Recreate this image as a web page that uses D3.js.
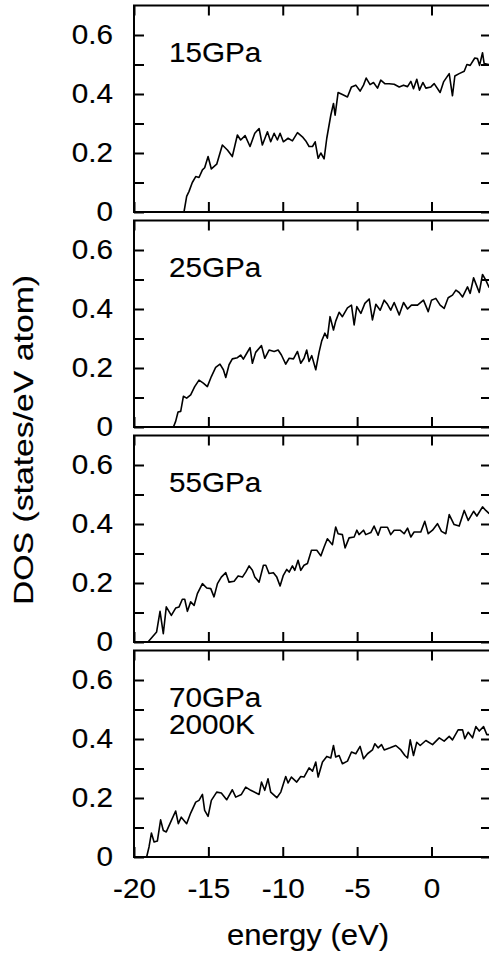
<!DOCTYPE html>
<html>
<head>
<meta charset="utf-8">
<script src="https://cdn.jsdelivr.net/npm/d3@7"></script>
<style>
  body { margin: 0; background: #fff; }
  svg { display: block; font-family: "Liberation Sans", Arial, Helvetica, sans-serif; }
  svg text { fill: #000; stroke: #000; stroke-width: 0.15; }
  .tick line { stroke: #000; stroke-width: 2; }
</style>
</head>
<body>
<div id="chart"></div>
<script>
// Energy grid (eV) and DOS (states/eV atom)
let energy15 = [-16.64,-16.46,-16.30,-16.08,-15.85,-15.63,-15.40,-15.25,-15.02,-14.80,-14.44,-14.06,-13.72,-13.39,-13.05,-12.83,-12.53,-12.20,-11.88,-11.59,-11.37,-11.03,-10.81,-10.58,-10.36,-10.18,-9.96,-9.64,-9.35,-9.01,-8.68,-8.45,-8.23,-8.00,-7.82,-7.62,-7.44,-7.22,-7.04,-6.77,-6.59,-6.48,-6.28,-5.99,-5.65,-5.38,-5.09,-4.80,-4.57,-4.39,-4.13,-3.90,-3.63,-3.41,-3.14,-2.85,-2.51,-2.17,-1.88,-1.61,-1.39,-1.21,-0.99,-0.81,-0.58,-0.38,-0.04,0.18,0.58,0.81,1.19,1.41,1.57,1.86,2.20,2.38,2.60,2.91,3.09,3.23,3.43,3.54,3.88]
let dos15 = [0,0.053,0.07,0.10,0.12,0.117,0.143,0.15,0.188,0.146,0.162,0.227,0.21,0.188,0.261,0.244,0.259,0.222,0.267,0.283,0.227,0.272,0.238,0.267,0.244,0.267,0.238,0.25,0.241,0.269,0.255,0.241,0.222,0.222,0.238,0.182,0.20,0.18,0.25,0.328,0.368,0.328,0.405,0.398,0.39,0.424,0.43,0.41,0.43,0.454,0.432,0.439,0.42,0.447,0.435,0.435,0.433,0.424,0.43,0.425,0.443,0.418,0.45,0.413,0.439,0.42,0.424,0.435,0.405,0.441,0.469,0.394,0.461,0.469,0.477,0.50,0.497,0.522,0.52,0.497,0.54,0.503,0.50]

let energy25 = [-17.35,-17.20,-17.04,-16.86,-16.68,-16.46,-16.19,-15.92,-15.63,-15.34,-15.07,-14.80,-14.51,-14.22,-13.99,-13.83,-13.61,-13.39,-13.05,-12.83,-12.65,-12.42,-12.20,-12.04,-11.82,-11.43,-11.21,-10.92,-10.58,-10.31,-10.09,-9.80,-9.57,-9.28,-9.01,-8.79,-8.57,-8.39,-8.23,-8.05,-7.78,-7.56,-7.38,-7.17,-7.00,-6.82,-6.59,-6.44,-6.21,-5.99,-5.65,-5.38,-5.20,-5.02,-4.75,-4.48,-4.19,-3.97,-3.74,-3.45,-3.18,-2.96,-2.74,-2.51,-2.17,-1.88,-1.61,-1.35,-0.94,-0.54,-0.22,0.00,0.29,0.58,0.85,1.12,1.41,1.64,1.86,2.09,2.42,2.60,2.83,2.98,3.21,3.43,3.65,3.88]
let dos25 = [0,0.019,0.051,0.053,0.104,0.098,0.109,0.137,0.159,0.149,0.137,0.171,0.202,0.213,0.194,0.168,0.211,0.231,0.235,0.244,0.23,0.25,0.269,0.216,0.253,0.276,0.233,0.261,0.256,0.261,0.244,0.213,0.233,0.231,0.256,0.216,0.233,0.261,0.222,0.242,0.194,0.253,0.292,0.318,0.301,0.374,0.329,0.359,0.389,0.374,0.404,0.413,0.346,0.408,0.385,0.419,0.434,0.363,0.416,0.396,0.43,0.416,0.396,0.422,0.38,0.422,0.40,0.413,0.413,0.43,0.391,0.43,0.436,0.413,0.402,0.438,0.447,0.464,0.456,0.441,0.475,0.453,0.506,0.486,0.456,0.517,0.498,0.472]

let energy55 = [-19.06,-18.77,-18.48,-18.25,-18.03,-17.83,-17.49,-17.20,-16.97,-16.75,-16.59,-16.41,-16.19,-15.96,-15.74,-15.40,-15.11,-14.84,-14.62,-14.39,-14.13,-13.83,-13.61,-13.27,-13.00,-12.71,-12.49,-12.26,-12.04,-11.88,-11.59,-11.30,-11.14,-10.92,-10.63,-10.40,-10.18,-9.96,-9.73,-9.57,-9.35,-9.19,-8.97,-8.79,-8.57,-8.34,-8.07,-7.71,-7.44,-7.22,-7.00,-6.66,-6.44,-6.28,-5.99,-5.81,-5.54,-5.20,-5.02,-4.87,-4.57,-4.42,-4.08,-3.86,-3.59,-3.41,-2.96,-2.74,-2.51,-2.11,-1.84,-1.61,-1.39,-1.17,-0.72,-0.45,-0.22,0.07,0.40,0.67,0.96,1.19,1.52,1.86,2.20,2.47,2.83,3.05,3.43,3.65,3.88]
let dos55 = [0,0.017,0.034,0.104,0.028,0.119,0.09,0.115,0.119,0.145,0.145,0.104,0.136,0.124,0.164,0.198,0.183,0.181,0.153,0.198,0.22,0.235,0.203,0.206,0.224,0.22,0.237,0.258,0.243,0.22,0.203,0.26,0.26,0.232,0.235,0.22,0.19,0.226,0.246,0.237,0.258,0.243,0.277,0.243,0.26,0.266,0.311,0.311,0.292,0.322,0.35,0.33,0.39,0.367,0.364,0.319,0.353,0.356,0.379,0.364,0.379,0.364,0.371,0.393,0.362,0.389,0.389,0.364,0.379,0.379,0.367,0.386,0.356,0.373,0.373,0.409,0.367,0.379,0.401,0.375,0.367,0.432,0.398,0.393,0.446,0.412,0.443,0.427,0.458,0.446,0.435]

let energy70 = [-19.15,-18.99,-18.83,-18.65,-18.43,-18.21,-18.03,-17.83,-17.53,-17.20,-17.02,-16.82,-16.46,-16.19,-15.85,-15.63,-15.40,-15.25,-15.02,-14.80,-14.44,-14.13,-13.77,-13.39,-13.16,-12.78,-12.49,-12.15,-11.59,-11.43,-11.21,-10.99,-10.81,-10.40,-10.13,-9.80,-9.64,-9.42,-9.06,-8.79,-8.57,-8.23,-8.00,-7.78,-7.62,-7.33,-7.04,-6.77,-6.59,-6.44,-6.21,-5.99,-5.65,-5.38,-5.09,-4.80,-4.57,-4.30,-3.97,-3.81,-3.59,-3.36,-3.18,-2.78,-2.40,-2.06,-1.79,-1.61,-1.43,-1.21,-0.99,-0.76,-0.38,0.07,0.52,0.85,1.19,1.41,1.79,2.09,2.24,2.47,2.76,2.98,3.21,3.50,3.72,3.88]
let dos70 = [0,0.034,0.081,0.051,0.054,0.126,0.09,0.085,0.119,0.156,0.113,0.135,0.113,0.149,0.186,0.192,0.212,0.158,0.138,0.192,0.22,0.217,0.194,0.228,0.203,0.212,0.237,0.226,0.212,0.254,0.226,0.265,0.22,0.201,0.22,0.273,0.251,0.271,0.254,0.273,0.271,0.302,0.291,0.322,0.271,0.322,0.341,0.336,0.378,0.339,0.344,0.316,0.325,0.356,0.35,0.375,0.333,0.35,0.363,0.384,0.37,0.381,0.363,0.37,0.378,0.363,0.344,0.336,0.397,0.344,0.389,0.378,0.395,0.381,0.404,0.393,0.409,0.397,0.431,0.431,0.401,0.423,0.404,0.442,0.427,0.442,0.415,0.415]

// Panel labels and ticks
let panelLabels = [["15GPa"], ["25GPa"], ["55GPa"], ["70GPa", "2000K"]]
let yTicks = [0, 0.1, 0.2, 0.3, 0.4, 0.5, 0.6]
let yTickLabels = ["0", "", "0.2", "", "0.4", "", "0.6"]
let xTicks = [-20, -15, -10, -5, 0]
let xTickLabels = ["-20", "-15", "-10", "-5", "0"]
let xTitle = "energy (eV)"
let yTitle = "DOS (states/eV atom)"

let series = [
    energy15.map((e, i) => [e, dos15[i]]),
    energy25.map((e, i) => [e, dos25[i]]),
    energy55.map((e, i) => [e, dos55[i]]),
    energy70.map((e, i) => [e, dos70[i]])
]

// Layout
let width = 489
let height = 954
let left = 134
let right = 491
let panelTops = [5.5, 220.5, 435.5, 650.5]
let panelHeight = 206.5
let stretch = 1.1

const svg = d3.select("#chart")
            .append("svg")
            .attr("width", width)
            .attr("height", height)

// Shared x scale
const xScale = d3.scaleLinear()
    .domain([-20, 4])
    .range([left, right])

series.forEach((data, p) => {
    let top = panelTops[p]
    let bottom = top + panelHeight
    let last = p == series.length - 1

    const yScale = d3.scaleLinear()
        .domain([0, 0.7])
        .range([bottom, top])

    const g = svg.append("g").attr("class", "panel")

    // Curve
    const line = d3.line()
        .x(d => xScale(d[0]))
        .y(d => yScale(d[1]))

    g.append("path")
     .datum(data)
     .attr("fill", "none")
     .attr("stroke", "#000")
     .attr("stroke-width", 1.6)
     .attr("stroke-linejoin", "round")
     .attr("d", line)

    // Left axis with labels
    const yAxis = d3.axisLeft(yScale)
        .tickValues(yTicks)
        .tickSizeInner(-10).tickSizeOuter(0)
        .tickPadding(19)
        .tickFormat((d, i) => yTickLabels[i])
    g.append("g")
     .attr("transform", "translate(" + left + ",0)")
     .call(yAxis)
     .call(a => a.select(".domain").remove())
     .selectAll("text")
     .attr("font-size", 27)
     .attr("transform", "scale(" + stretch + ",1)")

    // Right axis, ticks only
    g.append("g")
     .attr("transform", "translate(" + right + ",0)")
     .call(d3.axisRight(yScale).tickValues(yTicks).tickSizeInner(-10).tickSizeOuter(0).tickFormat(""))
     .call(a => a.select(".domain").remove())

    // Top axis, ticks only
    g.append("g")
     .attr("transform", "translate(0," + top + ")")
     .call(d3.axisTop(xScale).tickValues(xTicks).tickSizeInner(-10).tickSizeOuter(0).tickFormat(""))
     .call(a => a.select(".domain").remove())

    // Bottom axis, labels on the last panel only
    const xAxis = d3.axisBottom(xScale)
        .tickValues(xTicks)
        .tickSizeInner(-10).tickSizeOuter(0)
        .tickPadding(22)
        .tickFormat((d, i) => last ? xTickLabels[i] : "")
    g.append("g")
     .attr("transform", "translate(0," + bottom + ")")
     .call(xAxis)
     .call(a => a.select(".domain").remove())
     .selectAll("text")
     .attr("font-size", 27)
     .attr("transform", "scale(" + stretch + ",1)")

    // Frame
    g.append("rect")
     .attr("x", left)
     .attr("y", top)
     .attr("width", right - left)
     .attr("height", panelHeight)
     .attr("fill", "none")
     .attr("stroke", "#000")
     .attr("stroke-width", 2)

    // Panel label
    const label = g.append("text")
        .attr("transform", "translate(169," + (top + 56) + ") scale(1.06,1)")
        .attr("font-size", 28)
    label.selectAll("tspan")
        .data(panelLabels[p])
        .enter()
        .append("tspan")
        .attr("x", 0)
        .attr("dy", (d, i) => i == 0 ? 0 : 28)
        .text(d => d)
})

// Axis titles
svg.append("text")
    .attr("x", 308)
    .attr("y", 945)
    .attr("text-anchor", "middle")
    .attr("font-size", 29)
    .attr("textLength", 162)
    .attr("lengthAdjust", "spacingAndGlyphs")
    .text(xTitle)

svg.append("text")
    .attr("transform", "translate(33,440) rotate(-90)")
    .attr("text-anchor", "middle")
    .attr("font-size", 28)
    .attr("textLength", 330)
    .attr("lengthAdjust", "spacingAndGlyphs")
    .text(yTitle)
</script>
</body>
</html>
